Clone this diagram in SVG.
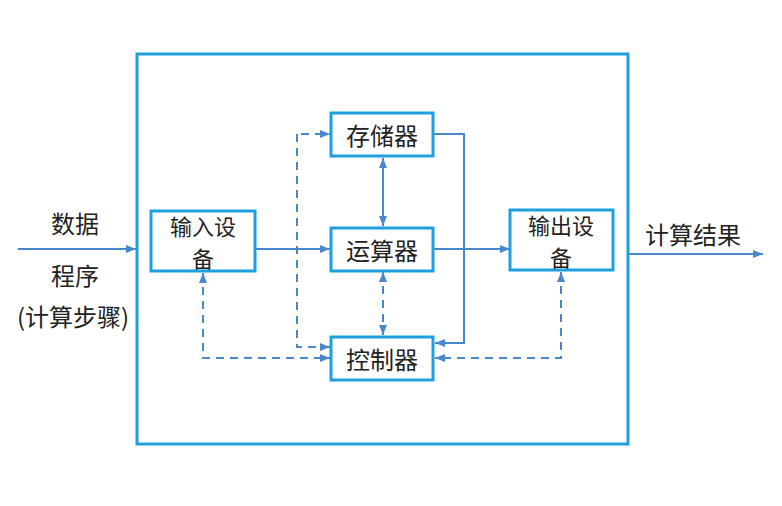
<svg xmlns="http://www.w3.org/2000/svg" width="782" height="506" viewBox="0 0 782 506">
<style>
.box{fill:#fff;stroke:#1e9fe0;stroke-width:3}
.frame{fill:none;stroke:#1e9fe0;stroke-width:3}
.t{font-family:"Noto Sans CJK SC","Liberation Sans",sans-serif;font-size:24px;fill:#222;text-anchor:middle;dominant-baseline:central}
.s{font-size:22px}
.c{fill:none;stroke:#4a88cc;stroke-width:2}
.d{stroke-dasharray:8,6}
</style>
<defs>
<marker id="ah" viewBox="0 0 10 10" refX="10" refY="5" markerWidth="10" markerHeight="10" markerUnits="userSpaceOnUse" orient="auto-start-reverse">
<path d="M0,1 L10,5 L0,9 Z" fill="#4a88cc"/>
</marker>
</defs>
<rect width="782" height="506" fill="#fff"/>
<g id="frame"><rect class="frame" x="137" y="54" width="491" height="390"/></g>
<g id="connectors">
<path class="c" d="M18,249 H136" marker-end="url(#ah)"/>
<path class="c" d="M629,254 H763" marker-end="url(#ah)"/>
<path class="c" d="M255,249 H330" marker-end="url(#ah)"/>
<path class="c" d="M434,249 H510" marker-end="url(#ah)"/>
<path class="c" d="M383,158 V226" marker-start="url(#ah)" marker-end="url(#ah)"/>
<path class="c d" d="M383,272 V335" marker-start="url(#ah)" marker-end="url(#ah)"/>
<path class="c" d="M434,134 H464 V343 H435" marker-end="url(#ah)"/>
<path class="c d" d="M297,134 H330" stroke-dashoffset="-4" marker-end="url(#ah)"/>
<path class="c d" d="M297,134 V347 H330" marker-end="url(#ah)"/>
<path class="c d" d="M203,273 V358 H330" marker-start="url(#ah)" marker-end="url(#ah)"/>
<path class="c d" d="M561,272 V358 H435" marker-start="url(#ah)" marker-end="url(#ah)"/>
</g>
<g id="storage"><rect class="box" x="331" y="113" width="102" height="43"/><text class="t" x="382" y="134">存储器</text></g>
<g id="alu"><rect class="box" x="331" y="228" width="102" height="43"/><text class="t" x="382" y="249">运算器</text></g>
<g id="controller"><rect class="box" x="331" y="337" width="102" height="43"/><text class="t" x="382" y="358">控制器</text></g>
<g id="input"><rect class="box" x="151" y="211" width="104" height="60"/><text class="t s" x="203" y="225">输入设</text><text class="t s" x="203" y="257">备</text></g>
<g id="output"><rect class="box" x="510" y="210" width="103" height="60"/><text class="t s" x="561" y="224">输出设</text><text class="t s" x="561" y="256">备</text></g>
<g id="labels">
<text class="t" x="75" y="222">数据</text>
<text class="t" x="75" y="274">程序</text>
<text class="t" x="73" y="315">(计算步骤)</text>
<text class="t" x="693" y="233">计算结果</text>
</g>
</svg>
